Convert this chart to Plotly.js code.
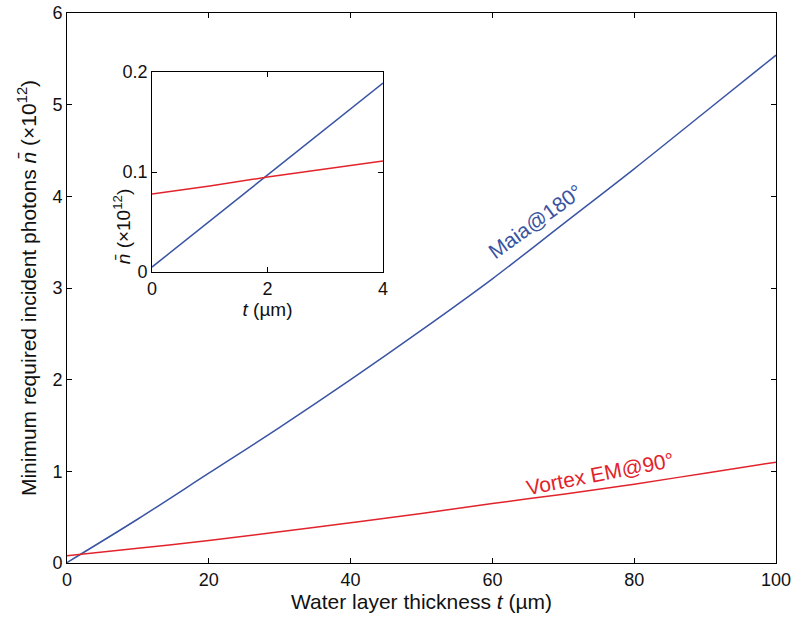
<!DOCTYPE html>
<html>
<head>
<meta charset="utf-8">
<script src="https://cdn.plot.ly/plotly-3.0.1.min.js"></script>
<style>html,body{margin:0;padding:0;background:#fff;}#chart{width:800px;height:623px;}</style>
</head>
<body>
<div id="chart"></div>
<script>
// Main panel data
var thickness = [0, 10, 20, 30, 40, 50, 60, 70, 80, 90, 100];
var maia180 = [0.005, 0.48, 0.98, 1.48, 2.0, 2.54, 3.1, 3.7, 4.3, 4.92, 5.54];
var vortex90 = [0.078, 0.16, 0.245, 0.34, 0.44, 0.54, 0.65, 0.75, 0.86, 0.98, 1.10];
// Inset data
var insetThickness = [0, 1, 2, 3, 4];
var insetMaia = [0.005, 0.051, 0.097, 0.143, 0.189];
var insetVortex = [0.078, 0.086, 0.095, 0.103, 0.111];

var blue = '#3a54a4';
var red = '#e2232b';
var fontFam = 'Liberation Sans, Arial, Helvetica, sans-serif';

var traces = [
  {x: thickness, y: maia180, type: 'scatter', mode: 'lines', line: {color: blue, width: 1.5, shape: 'spline'}, xaxis: 'x', yaxis: 'y'},
  {x: thickness, y: vortex90, type: 'scatter', mode: 'lines', line: {color: red, width: 1.5, shape: 'spline'}, xaxis: 'x', yaxis: 'y'},
  {x: insetThickness, y: insetMaia, type: 'scatter', mode: 'lines', line: {color: blue, width: 1.5}, xaxis: 'x2', yaxis: 'y2'},
  {x: insetThickness, y: insetVortex, type: 'scatter', mode: 'lines', line: {color: red, width: 1.5}, xaxis: 'x2', yaxis: 'y2'}
];

var axisCommon = {
  showline: true, linecolor: '#000', linewidth: 1, mirror: 'ticks',
  ticks: 'inside', ticklen: 5, tickcolor: '#000', tickwidth: 1,
  showgrid: false, zeroline: false,
  tickfont: {family: fontFam, size: 18, color: '#111'}
};

var layout = {
  width: 800, height: 623,
  margin: {l: 67, r: 24, t: 13, b: 60},
  paper_bgcolor: '#fff', plot_bgcolor: '#fff',
  showlegend: false,
  font: {family: fontFam, color: '#111'},
  xaxis: Object.assign({}, axisCommon, {
    range: [0, 100], tickvals: [0, 20, 40, 60, 80, 100], domain: [0, 1],
    title: {text: 'Water layer thickness <i>t</i> (µm)', font: {family: fontFam, size: 21, color: '#111'}, standoff: 4}
  }),
  yaxis: Object.assign({}, axisCommon, {
    range: [0, 6], tickvals: [0, 1, 2, 3, 4, 5, 6], domain: [0, 1],
    title: {text: 'Minimum required incident photons <i>n̄</i> (×10<sup>12</sup>)', font: {family: fontFam, size: 21, color: '#111'}, standoff: 10}
  }),
  xaxis2: Object.assign({}, axisCommon, {
    anchor: 'y2', domain: [0.1199, 0.4457], range: [0, 4], tickvals: [0, 2, 4],
    title: {text: '<i>t</i> (µm)', font: {family: fontFam, size: 19, color: '#111'}, standoff: 2}
  }),
  yaxis2: Object.assign({}, axisCommon, {
    anchor: 'x2', domain: [0.529, 0.8927], range: [0, 0.2], tickvals: [0, 0.1, 0.2]
  }),
  annotations: [
    {x: 0.0578, y: 0.685, xref: 'paper', yref: 'paper', text: '<i>n̄</i> (×10<sup>12</sup>)', showarrow: false, textangle: -90,
     font: {family: fontFam, size: 19, color: '#111'}},
    {x: 66.0, y: 3.73, xref: 'x', yref: 'y', text: 'Maia@180°', showarrow: false, textangle: -36,
     font: {family: fontFam, size: 21, color: blue}},
    {x: 75.2, y: 0.98, xref: 'x', yref: 'y', text: 'Vortex EM@90°', showarrow: false, textangle: -11,
     font: {family: fontFam, size: 21, color: red}}
  ]
};

Plotly.newPlot('chart', traces, layout, {displayModeBar: false, staticPlot: true});
</script>
</body>
</html>
